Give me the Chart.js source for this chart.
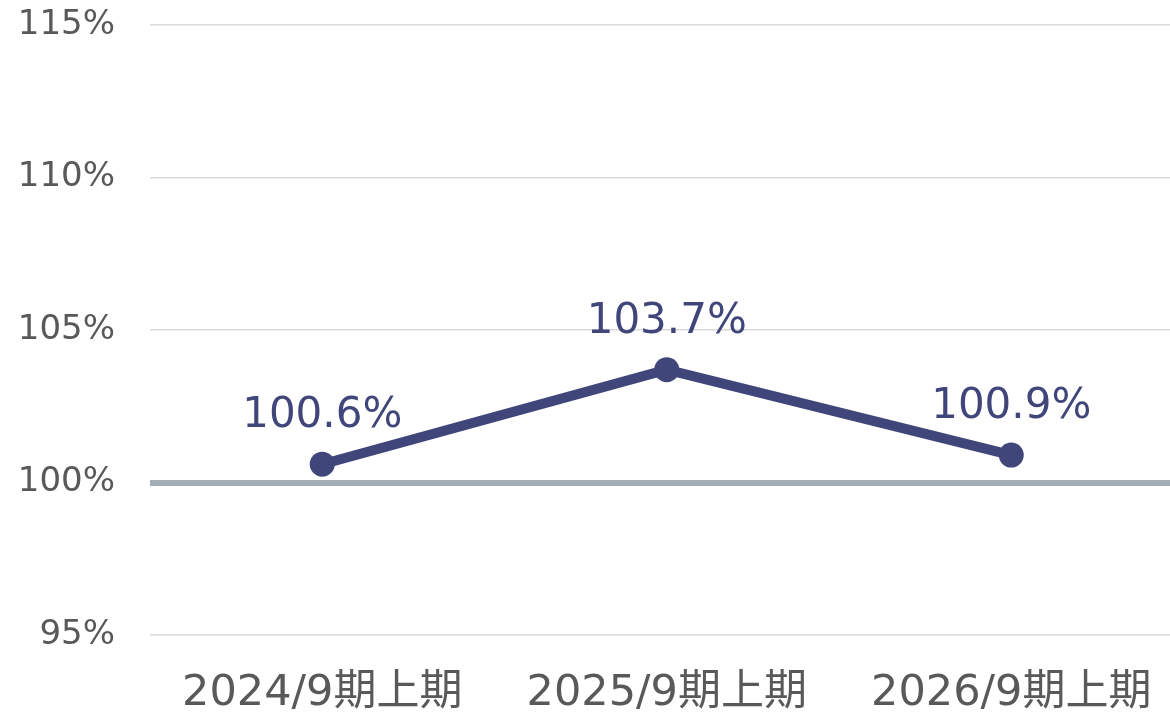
<!DOCTYPE html>
<html>
<head>
<meta charset="utf-8">
<script src="https://cdn.jsdelivr.net/npm/chart.js@4/dist/chart.umd.min.js"></script>
<style>
  html, body { margin: 0; padding: 0; background: #fff; overflow: hidden; }
</style>
</head>
<body>
<canvas id="chart" width="1196" height="714"></canvas>
<script>
// Chart values
const periods = ['2024/9期上期', '2025/9期上期', '2026/9期上期'];
const ratios = [100.6, 103.7, 100.9];
const yTicks = [95, 100, 105, 110, 115];

const FONT = '"DejaVu Sans", Verdana, "Noto Sans CJK JP", sans-serif';
const LINE_COLOR = '#40457a';
const TEXT_COLOR = '#595959';

// Draws the value above each point
const valueLabels = {
    id: 'valueLabels',
    afterDatasetsDraw(chart) {
        const ctx = chart.ctx;
        const meta = chart.getDatasetMeta(0);
        ctx.save();
        ctx.font = '42px ' + FONT;
        ctx.fillStyle = LINE_COLOR;
        ctx.textAlign = 'center';
        ctx.textBaseline = 'middle';
        meta.data.forEach((pt, i) => {
            ctx.fillText(ratios[i].toFixed(1) + '%', pt.x, pt.y - 48);
        });
        ctx.restore();
    }
};

new Chart(document.getElementById('chart'), {
    type: 'line',
    data: {
        labels: periods,
        datasets: [{
            data: ratios,
            borderColor: LINE_COLOR,
            backgroundColor: LINE_COLOR,
            borderWidth: 10,
            pointRadius: 12.5,
            pointHoverRadius: 12.5,
            pointBackgroundColor: LINE_COLOR,
            pointBorderWidth: 0,
            tension: 0
        }]
    },
    options: {
        responsive: false,
        animation: false,
        layout: { padding: { top: 25, left: 0, right: 0, bottom: 0 } },
        plugins: {
            legend: { display: false },
            tooltip: { enabled: false }
        },
        scales: {
            x: {
                offset: true,
                grid: { display: false, drawTicks: false },
                border: { display: false },
                ticks: {
                    color: TEXT_COLOR,
                    font: { family: FONT, size: 43 },
                    padding: 33,
                    maxRotation: 0
                },
                afterFit(scale) {
                    scale.height = 79;
                    scale.paddingLeft = 0;
                    scale.paddingRight = 0;
                }
            },
            y: {
                min: 95,
                max: 115,
                afterBuildTicks(scale) {
                    scale.ticks = yTicks.map(v => ({ value: v }));
                },
                grid: {
                    drawTicks: false,
                    color: ctx => ctx.tick && ctx.tick.value === 100 ? '#a3adb3' : '#d9d9d9',
                    lineWidth: ctx => ctx.tick && ctx.tick.value === 100 ? 6 : 1.5
                },
                border: { display: false },
                ticks: {
                    color: TEXT_COLOR,
                    font: { family: FONT, size: 34 },
                    padding: 35,
                    callback: v => v + '%'
                },
                afterFit(scale) {
                    scale.width = 150;
                    scale.paddingTop = 0;
                }
            }
        }
    },
    plugins: [valueLabels]
});
</script>
</body>
</html>
